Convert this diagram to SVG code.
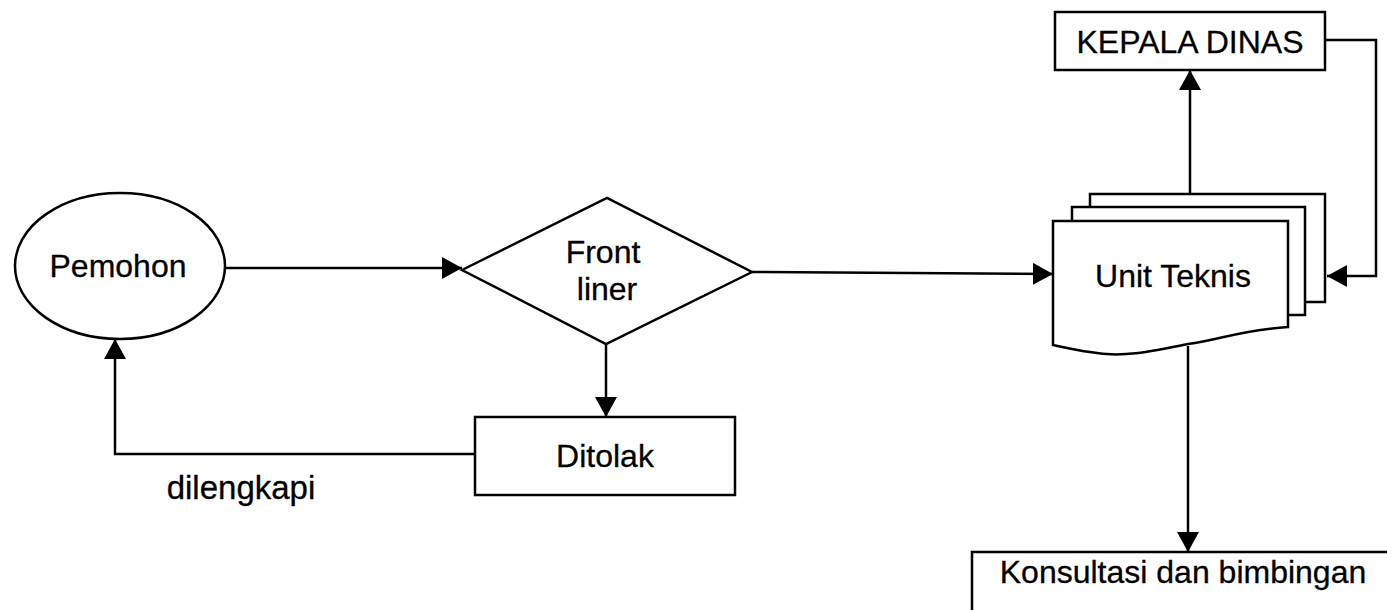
<svg xmlns="http://www.w3.org/2000/svg" width="1387" height="610" viewBox="0 0 1387 610">
<style>
.shape{fill:#fff;stroke:#000;stroke-width:2.5}
.ln{fill:none;stroke:#000;stroke-width:2.5}
.t{font-family:"Liberation Sans",Arial,sans-serif;font-size:32px;fill:#000;text-anchor:middle;stroke:#000;stroke-width:0.3}
</style>
<defs>
<marker id="ah" viewBox="0 0 20 22" refX="20" refY="11" markerWidth="20" markerHeight="22" markerUnits="userSpaceOnUse" orient="auto">
<path d="M0,0 L20,11 L0,22 Z" fill="#000"/>
</marker>
</defs>
<rect width="1387" height="610" fill="#fff"/>
<g id="connectors">
<line class="ln" x1="225" y1="268" x2="462" y2="268" marker-end="url(#ah)"/>
<line class="ln" x1="606" y1="344" x2="606" y2="417" marker-end="url(#ah)"/>
<polyline class="ln" points="475,454 115,454 115,339" marker-end="url(#ah)"/>
<line class="ln" x1="752" y1="272" x2="1053" y2="274" marker-end="url(#ah)"/>
<line class="ln" x1="1190" y1="194" x2="1190" y2="70" marker-end="url(#ah)"/>
<polyline class="ln" points="1325,40 1376,40 1376,276 1327,276" marker-end="url(#ah)"/>
<line class="ln" x1="1188" y1="346" x2="1188" y2="552" marker-end="url(#ah)"/>
<text class="t" x="241" y="499" style="font-size:33px">dilengkapi</text>
</g>
<g id="pemohon">
<ellipse class="shape" cx="120" cy="266" rx="105" ry="73"/>
<text class="t" x="118" y="277">Pemohon</text>
</g>
<g id="frontliner">
<polygon class="shape" points="462,270 607,198 752,272 606,344"/>
<text class="t" x="603" y="263">Front</text>
<text class="t" x="607" y="300">liner</text>
</g>
<g id="ditolak">
<rect class="shape" x="475" y="417" width="260" height="78"/>
<text class="t" x="605" y="467">Ditolak</text>
</g>
<g id="unitteknis">
<path class="shape" d="M1090,302 V194 H1325 V302 Z"/>
<path class="shape" d="M1072,315 V207 H1305 V315 Z"/>
<path class="shape" d="M1053,345 V221 H1288 V327 C1240,330 1220,340 1188,344 C1150,352 1120,358 1090,352 C1075,350 1063,347 1053,345 Z"/>
<text class="t" x="1173" y="287">Unit Teknis</text>
</g>
<g id="kepaladinas">
<rect class="shape" x="1055" y="12" width="270" height="58"/>
<text class="t" x="1190" y="53">KEPALA DINAS</text>
</g>
<g id="konsultasi">
<rect class="shape" x="972" y="552" width="430" height="80"/>
<text class="t" x="1183" y="583">Konsultasi dan bimbingan</text>
</g>
</svg>
